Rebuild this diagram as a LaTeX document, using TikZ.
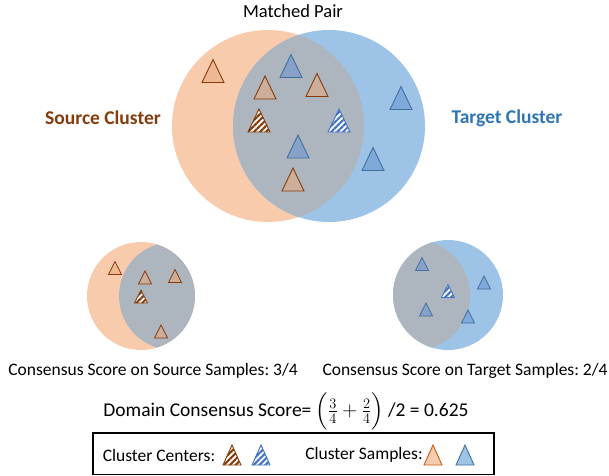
\documentclass[tikz,border=0pt]{standalone}
\usepackage{fontspec}
\setmainfont{Carlito}
\usepackage{amsmath}
\usetikzlibrary{calc,patterns.meta}
\frenchspacing

\definecolor{srcfill}{HTML}{F8CBAD}
\definecolor{tgtfill}{HTML}{9DC3E6}
\definecolor{lensgray}{HTML}{ADB5BE}
\definecolor{srcdark}{HTML}{843C0C}
\definecolor{tgtdark}{HTML}{41719C}
\definecolor{tgttext}{HTML}{2E75B6}
\definecolor{srcmid}{HTML}{C55A11}
\definecolor{tgtmid}{HTML}{4472C4}

\tikzset{
  srctri/.style={draw=srcdark, fill=srcfill!70!srcmid, fill opacity=0.55, line width=0.9pt},
  tgttri/.style={draw=tgtdark, fill=tgtmid!60!tgtfill, fill opacity=0.55, line width=0.9pt},
  srchatch/.style={draw=srcdark, line width=0.9pt, preaction={fill=white},
    pattern={Lines[angle=45,distance=4.2pt,line width=2.1pt]}, pattern color=srcdark},
  tgthatch/.style={draw=tgtmid, line width=0.9pt, preaction={fill=white},
    pattern={Lines[angle=45,distance=4.2pt,line width=2.1pt]}, pattern color=tgtmid},
  lbl/.style={font=\fontsize{17.5}{20}\selectfont, inner sep=0pt},
  cluster/.style={font=\fontsize{19.5}{22}\selectfont\bfseries, inner sep=0pt}
}

\begin{document}
\begin{tikzpicture}[x=1pt,y=-1pt]
  \useasboundingbox (0,0) rectangle (609,475);

  % big venn
  \coordinate (src) at (268,126);
  \coordinate (tgt) at (329,126);
  \fill[srcfill] (src) circle (96);
  \fill[tgtfill] (tgt) circle (96);
  \begin{scope}
    \clip (src) circle (96);
    \fill[lensgray] (tgt) circle (96);
  \end{scope}

  % small venns
  \coordinate (ssrc) at (141,296);
  \coordinate (stgt) at (448,295);
  \fill[srcfill] (ssrc) circle (54);
  \begin{scope}
    \clip (ssrc) circle (54);
    \fill[lensgray] ($(ssrc)+(32,0)$) circle (54);
  \end{scope}
  \fill[tgtfill] (stgt) circle (55);
  \begin{scope}
    \clip (stgt) circle (55);
    \fill[lensgray] ($(stgt)+(-33,0)$) circle (55);
  \end{scope}

  % big triangles
  \foreach \x/\y in {213/71,265/87.5,317/85,293/179.5}{
    \draw[srctri] (\x,\y) ++(0,-11.5) -- ++(11,23) -- ++(-22,0) -- cycle;}
  \foreach \x/\y in {291/66,298/146.5,401/98,373/159}{
    \draw[tgttri] (\x,\y) ++(0,-11.5) -- ++(11,23) -- ++(-22,0) -- cycle;}
  \draw[srchatch] (259,120.5) ++(0,-11.5) -- ++(11,23) -- ++(-22,0) -- cycle;
  \draw[tgthatch] (339,120.5) ++(0,-11.5) -- ++(11,23) -- ++(-22,0) -- cycle;

  % small triangles
  \foreach \x/\y in {115/268,145/277.5,175/276,161/331.5}{
    \draw[srctri, line width=0.7pt] (\x,\y) ++(0,-6.5) -- ++(6.5,13) -- ++(-13,0) -- cycle;}
  \foreach \x/\y in {422/264,484/282.5,426/309.5,468/316.5}{
    \draw[tgttri, line width=0.7pt] (\x,\y) ++(0,-6.5) -- ++(6.5,13) -- ++(-13,0) -- cycle;}
  \draw[srchatch, line width=0.7pt] (141,296.5) ++(0,-6.5) -- ++(6.5,13) -- ++(-13,0) -- cycle;
  \draw[tgthatch, line width=0.7pt] (448,291) ++(0,-6.5) -- ++(6.5,13) -- ++(-13,0) -- cycle;

  % labels
  \node[lbl, font=\fontsize{18.5}{21}\selectfont] (pair) at (293,11) {Matched Pair};
  \node[cluster, text=srcdark] (srclabel) at (103,118) {Source Cluster};
  \node[cluster, text=tgttext] (tgtlabel) at (507,118) {Target Cluster};
  \node[lbl] (srcscore) at (153,371) {Consensus Score on Source Samples: 3/4};
  \node[lbl] (tgtscore) at (465,371) {Consensus Score on Target Samples: 2/4};
  \node[lbl, font=\fontsize{19.5}{22}\selectfont] (domain) at (286,411)
    {Domain Consensus Score= $\Big(\frac{3}{4}+\frac{2}{4}\Big)$ /2 = 0.625};

  % legend
  \draw[line width=1.2pt] (93,433) rectangle (494,474.4);
  \node[lbl] (centers) at (159,455) {Cluster Centers:};
  \node[lbl] (samples) at (364,455) {Cluster Samples:};
  \draw[srchatch] (232,455) ++(0,-10) -- ++(9,20) -- ++(-18,0) -- cycle;
  \draw[tgthatch] (261,455) ++(0,-10) -- ++(9,20) -- ++(-18,0) -- cycle;
  \draw[draw=srcmid, fill=srcfill, line width=0.9pt] (433,455) ++(0,-10) -- ++(9,20) -- ++(-18,0) -- cycle;
  \draw[draw=tgtdark, fill=tgtfill, line width=0.9pt] (465,455) ++(0,-10) -- ++(9,20) -- ++(-18,0) -- cycle;
\end{tikzpicture}
\end{document}
